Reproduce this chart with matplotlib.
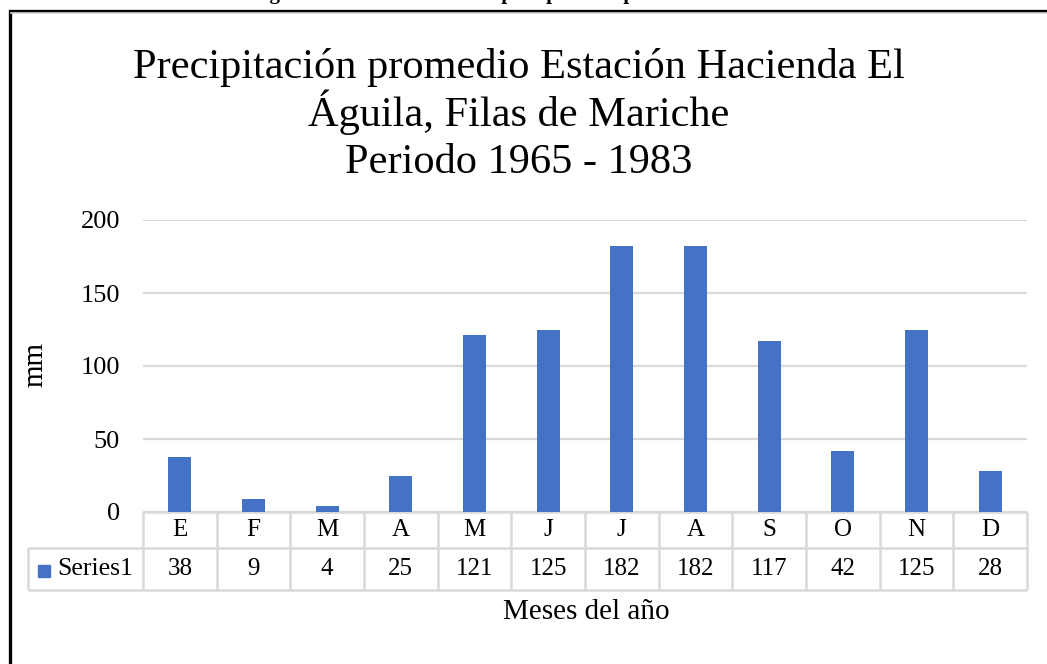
import matplotlib
matplotlib.use("Agg")
import matplotlib.pyplot as plt
import matplotlib.transforms as mtransforms
from matplotlib.patches import Rectangle
import numpy as np

# --- data ---
meses = ["E", "F", "M", "A", "M", "J", "J", "A", "S", "O", "N", "D"]
precip = [38, 9, 4, 25, 121, 125, 182, 182, 117, 42, 125, 28]
serie = "Series1"
y_ticks = [0, 50, 100, 150, 200]
titulo = ["Precipitación promedio Estación Hacienda El",
          "Águila, Filas de Mariche",
          "Periodo 1965 - 1983"]

W, H = 1047, 664
BLUE = "#4472C4"
GRID = "#d9d9d9"

plt.rcParams["font.family"] = ["Liberation Serif", "DejaVu Serif"]

fig = plt.figure(figsize=(W / 100, H / 100), dpi=100)


def fx(px):
    return px / W


def fy(py):
    # pixel from top -> figure fraction
    return 1 - py / H


# axes box: x 143..1027, y 220..512 (pixels)
ax = fig.add_axes([fx(143), fy(512), fx(1027 - 143), (512 - 220) / H])
x = np.arange(len(meses))
ax.bar(x, precip, width=0.31, color=BLUE, zorder=3)
ax.set_xlim(-0.5, len(meses) - 0.5)
ax.set_ylim(0, 200)
ax.set_yticks(y_ticks)
ax.set_yticklabels([str(v) for v in y_ticks], fontsize=19)
ax.tick_params(axis="y", length=0, pad=16.5)
ax.set_xticks([])
for s in ax.spines.values():
    s.set_visible(False)
ax.grid(axis="y", color=GRID, linewidth=1.6, zorder=0)

fig.text(fx(35), fy(365), "mm", rotation=90, ha="center", va="center", fontsize=21)

# --- data table under the axis ---
tr = mtransforms.blended_transform_factory(ax.transData, fig.transFigure)
row_top, row_mid, row_bot = fy(512), fy(548), fy(590)
left_cell = (fx(28) - fx(143)) / fx(1027 - 143) * len(meses) - 0.5  # in data x

lkw = dict(color=GRID, linewidth=1.8, transform=tr, clip_on=False, solid_capstyle="butt")
ax.plot([-0.5, len(meses) - 0.5], [row_top, row_top], **lkw)
ax.plot([left_cell, len(meses) - 0.5], [row_mid, row_mid], **lkw)
ax.plot([left_cell, len(meses) - 0.5], [row_bot, row_bot], **lkw)
ax.plot([left_cell, left_cell], [row_mid, row_bot], **lkw)
for i in range(len(meses) + 1):
    ax.plot([i - 0.5, i - 0.5], [row_top, row_bot], **lkw)

for i, (m, v) in enumerate(zip(meses, precip)):
    ax.text(i, (row_top + row_mid) / 2, m, transform=tr, ha="center", va="center",
            fontsize=18, clip_on=False)
    ax.text(i, (row_mid + row_bot) / 2, str(v), transform=tr, ha="center", va="center",
            fontsize=18, clip_on=False)

# legend key inside the table
fig.patches.append(Rectangle((fx(38), fy(577)), fx(12), 12 / H, color=BLUE,
                             transform=fig.transFigure))
fig.text(fx(57), (row_mid + row_bot) / 2, serie, ha="left", va="center", fontsize=18.5)

fig.text(fx(586), fy(612), "Meses del año", ha="center", va="center", fontsize=21)

# --- title, one text per line so the spacing stays even ---
for linea, base in zip(titulo, [78, 126, 173]):
    fig.text(fx(519), fy(base), linea, ha="center", va="baseline", fontsize=30.5)

# caption cut by the top edge of the picture
fig.text(fx(520), fy(-1), "Figura 2. Distribución de la precipitación promedio mensual",
         ha="center", va="baseline", fontsize=15, fontweight="bold")

# black frame around the chart (right and bottom are outside the picture)
fig.patches.append(Rectangle((fx(9.5), fy(H + 20)), fx(W + 40), (H + 20 - 10.5) / H,
                             fill=False, edgecolor="black", linewidth=2.4,
                             transform=fig.transFigure))
fig.lines.append(plt.Line2D([fx(11), 1], [fy(13), fy(13)], color=GRID, linewidth=1.2,
                            transform=fig.transFigure))

fig.savefig("out.png", dpi=100)
